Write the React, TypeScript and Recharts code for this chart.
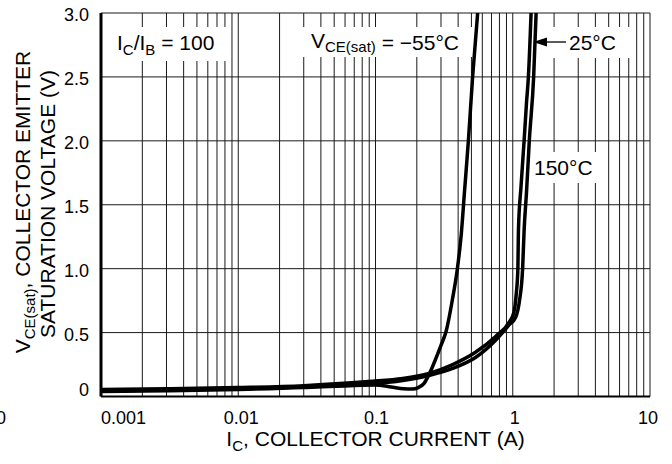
import React from "react";
import {
  LineChart,
  Line,
  XAxis,
  YAxis,
  CartesianGrid,
} from "recharts";

// log-axis gridlines: 1..9 in each decade
const xGridTicks = [
  0.001, 0.002, 0.003, 0.004, 0.005, 0.006, 0.007, 0.008, 0.009,
  0.01, 0.02, 0.03, 0.04, 0.05, 0.06, 0.07, 0.08, 0.09,
  0.1, 0.2, 0.3, 0.4, 0.5, 0.6, 0.7, 0.8, 0.9,
  1, 2, 3, 4, 5, 6, 7, 8, 9, 10,
];
const xLabels = ["0.001", "0.01", "0.1", "1", "10"];
const yTicks = [0, 0.5, 1.0, 1.5, 2.0, 2.5, 3.0];

// VCE(sat) = -55°C
const currentM55 = [0.001, 0.003, 0.01, 0.03, 0.06, 0.1, 0.13, 0.16, 0.185, 0.205, 0.225, 0.245, 0.276, 0.3, 0.327, 0.365, 0.395, 0.42, 0.445, 0.475, 0.51, 0.555];
const vceM55 = [0.04, 0.045, 0.055, 0.07, 0.085, 0.09, 0.075, 0.06, 0.058, 0.07, 0.1, 0.17, 0.3, 0.4, 0.51, 0.77, 1.0, 1.25, 1.6, 2.0, 2.5, 3.0];

// 25°C
const current25 = [0.001, 0.003, 0.01, 0.03, 0.089, 0.158, 0.245, 0.365, 0.535, 0.75, 0.94, 1.05, 1.12, 1.18, 1.21, 1.26, 1.32, 1.42, 1.48];
const vce25 = [0.045, 0.05, 0.06, 0.075, 0.096, 0.125, 0.164, 0.22, 0.305, 0.44, 0.56, 0.62, 0.75, 1.0, 1.3, 1.6, 2.0, 2.5, 3.0];

// 150°C
const current150 = [0.001, 0.003, 0.01, 0.03, 0.089, 0.158, 0.245, 0.365, 0.535, 0.75, 0.94, 1.02, 1.06, 1.09, 1.1, 1.15, 1.21, 1.26, 1.3, 1.36];
const vce150 = [0.055, 0.06, 0.07, 0.085, 0.117, 0.14, 0.18, 0.25, 0.346, 0.47, 0.58, 0.66, 0.8, 1.0, 1.3, 1.65, 2.0, 2.3, 2.5, 3.0];

const toPoints = (xs: number[], ys: number[]) => xs.map((i, k) => ({ i, v: ys[k] }));

const FONT = "'Liberation Sans', Arial, Helvetica, sans-serif";

const XTick = ({ x, y, payload }: any) => {
  const label = xLabels.find((l) => Number(l) === payload.value);
  if (!label) return null;
  const shift: Record<string, number> = { "0.001": 0, "0.01": 3, "0.1": 1, "1": 2, "10": -2 };
  return (
    <g>
      <text
        x={x + shift[label]}
        y={y + 27}
        textAnchor={label === "0.001" ? "start" : "middle"}
        fontSize={18}
        fontFamily={FONT}
        fill="#000"
      >
        {label}
      </text>
      {label === "0.001" && (
        // leftover of a cropped label at the picture's left edge
        <text x={x - 95} y={y + 27} textAnchor="end" fontSize={18} fontFamily={FONT} fill="#000">
          0
        </text>
      )}
    </g>
  );
};

const YTick = ({ x, y, payload }: any) => {
  const v = payload.value;
  return (
    <text
      x={x - 12}
      y={y + (v === 0 ? -1 : 8)}
      textAnchor="end"
      fontSize={18}
      fontFamily={FONT}
      fill="#000"
    >
      {v === 0 ? "0" : v.toFixed(1)}
    </text>
  );
};

const Annotations = () => (
  <g fontFamily={FONT} fill="#000">
    <rect x={105} y={27} width={122} height={34} fill="#fff" />
    <rect x={287} y={27} width={187} height={30} fill="#fff" />
    <rect x={552} y={27} width={80} height={31} fill="#fff" />
    <rect x={531} y={152} width={66} height={31} fill="#fff" />

    <text x={117} y={50} fontSize={21}>
      I<tspan dy={5} fontSize={15}>C</tspan>
      <tspan dy={-5}>/I</tspan>
      <tspan dy={5} fontSize={15}>B</tspan>
      <tspan dy={-5}> = 100</tspan>
    </text>
    <text x={311} y={48} fontSize={21}>
      V<tspan dy={4} fontSize={15}>CE(sat)</tspan>
      <tspan dy={-2}> = −55°C</tspan>
    </text>
    <text x={569} y={50} fontSize={21}>25°C</text>
    <text x={534} y={175} fontSize={21}>150°C</text>

    <line x1={545} y1={42} x2={566} y2={42} stroke="#000" strokeWidth={1.3} />
    <polygon points="533,42 547,37.5 547,46.5" fill="#000" />

    <text x={375.5} y={446} fontSize={21} textAnchor="middle">
      I<tspan dy={5} fontSize={15}>C</tspan>
      <tspan dy={-5}>, COLLECTOR CURRENT (A)</tspan>
    </text>
    <text transform="translate(30,202) rotate(-90)" fontSize={21} textAnchor="middle">
      V<tspan dy={5} fontSize={15}>CE(sat)</tspan>
      <tspan dy={-5}>, COLLECTOR EMITTER</tspan>
    </text>
    <text transform="translate(55,204) rotate(-90)" fontSize={21} textAnchor="middle">
      SATURATION VOLTAGE (V)
    </text>
  </g>
);

export default function App() {
  return (
    <div style={{ position: "absolute", left: 0, top: 0, width: 672, height: 464, background: "#fff" }}>
      <LineChart width={672} height={464} margin={{ top: 13, right: 22, bottom: 0, left: 0 }}>
        <CartesianGrid stroke="#1a1a1a" strokeWidth={1} />
        <XAxis
          dataKey="i"
          type="number"
          scale="log"
          domain={[0.001, 10]}
          ticks={xGridTicks}
          allowDataOverflow
          height={67.5}
          tickLine={false}
          tickSize={0}
          tickMargin={0}
          interval={0}
          axisLine={{ stroke: "#000", strokeWidth: 2 }}
          tick={<XTick />}
        />
        <YAxis
          type="number"
          domain={[0, 3]}
          ticks={yTicks}
          allowDataOverflow
          width={101}
          tickLine={false}
          tickSize={0}
          tickMargin={0}
          interval={0}
          axisLine={{ stroke: "#000", strokeWidth: 3 }}
          tick={<YTick />}
        />
        <Annotations />
        <Line data={toPoints(current150, vce150)} dataKey="v" type="monotone" stroke="#000" strokeWidth={3.5} dot={false} isAnimationActive={false} />
        <Line data={toPoints(current25, vce25)} dataKey="v" type="monotone" stroke="#000" strokeWidth={3.5} dot={false} isAnimationActive={false} />
        <Line data={toPoints(currentM55, vceM55)} dataKey="v" type="monotone" stroke="#000" strokeWidth={3.5} dot={false} isAnimationActive={false} />
      </LineChart>
    </div>
  );
}
